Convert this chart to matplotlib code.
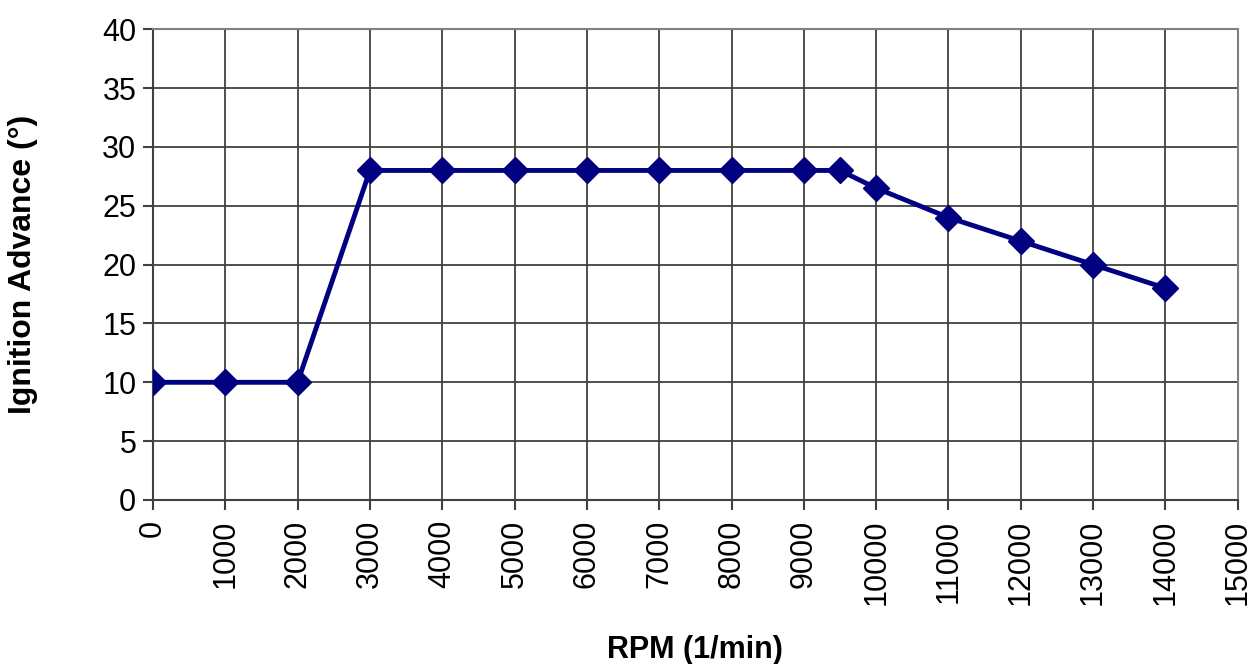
import matplotlib.pyplot as plt

plt.rcParams['font.family'] = ['Liberation Sans', 'DejaVu Sans']

# ignition map
rpm = [0, 1000, 2000, 3000, 4000, 5000, 6000, 7000, 8000, 9000, 9500, 10000, 11000, 12000, 13000, 14000]
advance = [10, 10, 10, 28, 28, 28, 28, 28, 28, 28, 28, 26.5, 24, 22, 20, 18]

x_ticks = list(range(0, 15001, 1000))
y_ticks = list(range(0, 41, 5))

fig = plt.figure(figsize=(12.54, 6.64), dpi=100)
ax = fig.add_axes([0.122, 0.247, 0.865, 0.709])

ax.plot(rpm, advance, color='#000080', linewidth=3.5, marker='D', markersize=13, zorder=3)

ax.set_xlim(0, 15000)
ax.set_ylim(0, 40)
ax.set_xticks(x_ticks)
ax.set_yticks(y_ticks)
ax.set_xticklabels([str(t) for t in x_ticks], rotation=90, va='top', ha='center')
ax.tick_params(axis='both', direction='out', length=7, width=1.5, color='#404040', labelsize=22, pad=5)
ax.tick_params(axis='x', pad=7)

ax.grid(True, color='#404040', linewidth=1.3)
ax.set_axisbelow(True)
for side, sp in ax.spines.items():
    sp.set_color('#808080' if side in ('top', 'right') else '#404040')
    sp.set_linewidth(1.5)

ax.set_xlabel('RPM (1/min)', fontsize=22, fontweight='bold', labelpad=22)
ax.set_ylabel('Ignition Advance (°)', fontsize=23, fontweight='bold', labelpad=46)

fig.savefig('out.png', dpi=100)
